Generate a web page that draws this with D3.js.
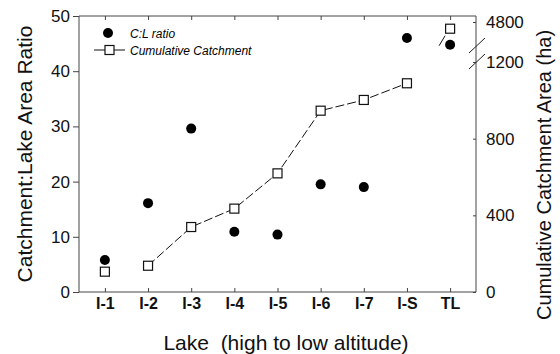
<!DOCTYPE html>
<html>
<head>
<meta charset="utf-8">
<script src="https://cdn.jsdelivr.net/npm/d3@7/dist/d3.min.js"></script>
<style>
  body { margin: 0; background: #fff; }
  svg { font-family: Arial, "Liberation Sans", sans-serif; }
</style>
</head>
<body>
<div id="chart"></div>
<script>
// lakes, high to low altitude
const lakes = ['I-1', 'I-2', 'I-3', 'I-4', 'I-5', 'I-6', 'I-7', 'I-S', 'TL'];
// catchment : lake area ratio (left axis)
const clRatio = [5.8, 16.1, 29.6, 10.9, 10.4, 19.5, 19.0, 46.0, 44.8];
// cumulative catchment area, ha (right axis, broken above 1200)
const cumCatch = [106, 137, 339, 435, 619, 946, 1002, 1089, 4765];
const leftTicks = [0, 10, 20, 30, 40, 50];
const rightTicks = [0, 400, 800, 1200];
const upperTicks = [4800];

const svgWidth = 560;
const svgHeight = 354;
const plotLeft = 79, plotRight = 476, plotTop = 16, plotBottom = 292;
const axisColor = '#444';

const svg = d3.select('#chart')
    .append('svg')
    .attr('width', svgWidth)
    .attr('height', svgHeight);

const xScale = d3.scalePoint()
    .domain(lakes)
    .range([plotLeft, plotRight])
    .padding(0.6);

const yLeft = d3.scaleLinear()
    .domain([0, 50])
    .range([plotBottom, plotTop]);

// lower part of the right axis
const yRight = d3.scaleLinear()
    .domain([0, 1200])
    .range([plotBottom, 62]);
// upper part above the break, same ha per pixel
const yUpper = d3.scaleLinear()
    .domain([4600, 4800])
    .range([22 + 200 * (plotBottom - 62) / 1200, 22]);

const yCum = v => v > 2000 ? yUpper(v) : yRight(v);

// frame: left axis
svg.append('g')
    .attr('transform', `translate(${plotLeft},0)`)
    .call(d3.axisLeft(yLeft).tickValues(leftTicks).tickSize(6).tickPadding(3))
    .call(g => g.select('.domain').attr('stroke', axisColor).attr('d', `M0,${plotBottom}V${plotTop}`))
    .call(g => g.selectAll('.tick line').attr('stroke', axisColor))
    .call(g => g.selectAll('.tick text').attr('font-size', 17).attr('fill', '#111'));

// bottom axis, ticks pointing in
svg.append('g')
    .attr('transform', `translate(0,${plotBottom})`)
    .call(d3.axisBottom(xScale).tickSize(-4).tickPadding(6))
    .call(g => g.select('.domain').attr('stroke', axisColor).attr('d', `M${plotLeft},0H${plotRight}`))
    .call(g => g.selectAll('.tick line').attr('stroke', axisColor))
    .call(g => g.selectAll('.tick text').attr('font-size', 16).attr('font-weight', 'bold').attr('fill', '#111'));

// top border with ticks
svg.append('g')
    .attr('transform', `translate(0,${plotTop})`)
    .call(d3.axisTop(xScale).tickSize(-4).tickFormat(''))
    .call(g => g.select('.domain').attr('stroke', axisColor).attr('d', `M${plotLeft},0H${plotRight}`))
    .call(g => g.selectAll('.tick line').attr('stroke', axisColor));

// right axis (lower segment)
svg.append('g')
    .attr('transform', `translate(${plotRight},0)`)
    .call(d3.axisRight(yRight).tickValues(rightTicks).tickFormat(d3.format('d')).tickSize(-3).tickPadding(10))
    .call(g => g.select('.domain').attr('stroke', axisColor).attr('d', `M0,${plotBottom}V${plotTop}`))
    .call(g => g.selectAll('.tick line').attr('stroke', axisColor))
    .call(g => g.selectAll('.tick text').attr('font-size', 17).attr('fill', '#111'));

// right axis (upper segment)
svg.append('g')
    .attr('transform', `translate(${plotRight},0)`)
    .call(d3.axisRight(yUpper).tickValues(upperTicks).tickFormat(d3.format('d')).tickSize(-3).tickPadding(10))
    .call(g => g.select('.domain').remove())
    .call(g => g.selectAll('.tick line').attr('stroke', axisColor))
    .call(g => g.selectAll('.tick text').attr('font-size', 17).attr('fill', '#111'));

// break marks
[0, 16].forEach(off => {
    svg.append('line')
        .attr('x1', plotRight - 7).attr('y1', 53 + off)
        .attr('x2', plotRight + 9).attr('y2', 38 + off)
        .attr('stroke', '#222').attr('stroke-width', 1);
});

// cumulative catchment line (starts at I-2, broken before TL)
const cumData = lakes.map((k, i) => ({ lake: k, v: cumCatch[i] }));
const lineData = cumData.slice(1, 8);
const line = d3.line()
    .x(d => xScale(d.lake))
    .y(d => yCum(d.v));

svg.append('path')
    .datum(lineData)
    .attr('d', line)
    .attr('fill', 'none')
    .attr('stroke', '#111')
    .attr('stroke-width', 1)
    .attr('stroke-dasharray', '9,3');

// short stub below the TL square
const tl = cumData[8];
const tx = xScale(tl.lake), ty = yCum(tl.v);
svg.append('line')
    .attr('x1', tx - 5).attr('y1', ty + 7)
    .attr('x2', tx - 11).attr('y2', ty + 17)
    .attr('stroke', '#111').attr('stroke-width', 1);

// C:L ratio points
svg.selectAll('.cl')
    .data(lakes.map((k, i) => ({ lake: k, v: clRatio[i] })))
    .join('circle')
    .attr('class', 'cl')
    .attr('cx', d => xScale(d.lake))
    .attr('cy', d => yLeft(d.v))
    .attr('r', 5)
    .attr('fill', '#000');

// cumulative squares
svg.selectAll('.cum')
    .data(cumData)
    .join('rect')
    .attr('class', 'cum')
    .attr('x', d => xScale(d.lake) - 4.5)
    .attr('y', d => yCum(d.v) - 4.5)
    .attr('width', 9)
    .attr('height', 9)
    .attr('fill', '#fff')
    .attr('stroke', '#111')
    .attr('stroke-width', 1.2);

// legend
const legend = svg.append('g');
legend.append('circle').attr('cx', 108).attr('cy', 33).attr('r', 5).attr('fill', '#000');
legend.append('text').attr('x', 130).attr('y', 38)
    .attr('font-size', 12).attr('font-style', 'italic').text('C:L ratio');
legend.append('line').attr('x1', 94).attr('x2', 125).attr('y1', 50).attr('y2', 50)
    .attr('stroke', '#111');
legend.append('rect').attr('x', 105).attr('y', 45.5).attr('width', 9).attr('height', 9)
    .attr('fill', '#fff').attr('stroke', '#111').attr('stroke-width', 1.2);
legend.append('text').attr('x', 130).attr('y', 55)
    .attr('font-size', 12).attr('font-style', 'italic').text('Cumulative Catchment');

// axis titles
svg.append('text')
    .attr('transform', `translate(32,${(plotTop + plotBottom) / 2}) rotate(-90)`)
    .attr('text-anchor', 'middle')
    .attr('font-size', 21)
    .attr('fill', '#111')
    .text('Catchment:Lake Area Ratio');

svg.append('text')
    .attr('transform', `translate(551,175) rotate(-90)`)
    .attr('text-anchor', 'middle')
    .attr('font-size', 20)
    .attr('fill', '#111')
    .text('Cumulative Catchment Area (ha)');

svg.append('text')
    .attr('x', 286)
    .attr('y', 350)
    .attr('text-anchor', 'middle')
    .attr('font-size', 21)
    .attr('fill', '#111')
    .style('white-space', 'pre')
    .text('Lake  (high to low altitude)');
</script>
</body>
</html>
